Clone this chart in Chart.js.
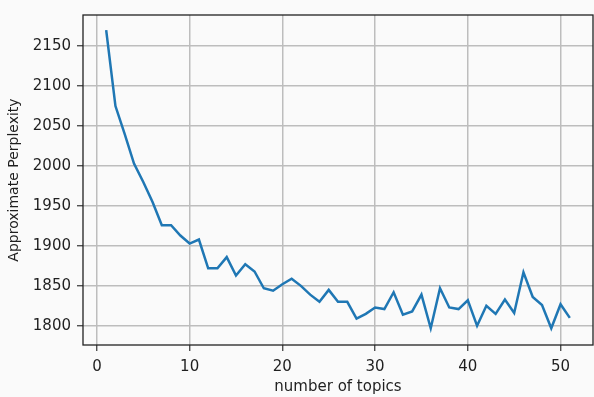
<!DOCTYPE html>
<html>
<head>
<meta charset="utf-8">
<script src="https://cdn.jsdelivr.net/npm/chart.js@4/dist/chart.umd.min.js"></script>
<style>
  html, body { margin: 0; padding: 0; background: #fafafa; }
  #wrap { width: 594px; height: 397px; }
</style>
</head>
<body>
<div id="wrap"><canvas id="chart" width="594" height="397"></canvas></div>
<script>
var topics = [1, 2, 3, 4, 5, 6, 7, 8, 9, 10, 11, 12, 13, 14, 15, 16, 17, 18, 19, 20,
  21, 22, 23, 24, 25, 26, 27, 28, 29, 30, 31, 32, 33, 34, 35, 36, 37, 38, 39, 40,
  41, 42, 43, 44, 45, 46, 47, 48, 49, 50, 51];

var perplexity = [2170, 2075, 2040, 2003, 1980, 1955, 1926, 1926, 1913, 1903,
  1908, 1872, 1872, 1886, 1863, 1877, 1868, 1847, 1844, 1852,
  1859, 1850, 1839, 1830, 1845, 1830, 1830, 1809, 1815, 1823,
  1821, 1842, 1814, 1818, 1839, 1797, 1847, 1823, 1821, 1832,
  1800, 1825, 1815, 1833, 1816, 1867, 1836, 1826, 1797, 1827, 1810];

var xTicks = [0, 10, 20, 30, 40, 50];
var yTicks = [1800, 1850, 1900, 1950, 2000, 2050, 2100, 2150];

var textColor = '#1f1f1f';
var gridColor = '#bdbdbd';
var tickFont = { family: 'DejaVu Sans', size: 15 };
var yTitleFont = { family: 'DejaVu Sans', size: 14 };

// matplotlib style frame around the plot area
var frame = {
  id: 'frame',
  afterDraw: function(chart) {
    var a = chart.chartArea, ctx = chart.ctx;
    ctx.save();
    ctx.strokeStyle = '#222';
    ctx.lineWidth = 1.3;
    ctx.strokeRect(a.left, a.top, a.right - a.left, a.bottom - a.top);
    ctx.restore();
  }
};

function fixTicks(values) {
  return function(axis) {
    axis.ticks = values.map(function(v) { return { value: v }; });
  };
}

function plain(v) { return String(v); }

new Chart(document.getElementById('chart'), {
  type: 'line',
  data: {
    datasets: [{
      data: topics.map(function(t, i) { return { x: t, y: perplexity[i] }; }),
      borderColor: '#1f77b4',
      borderWidth: 2.5,
      pointRadius: 0,
      tension: 0,
      fill: false
    }]
  },
  options: {
    responsive: false,
    animation: false,
    events: [],
    layout: { padding: { top: 12, right: 1, left: 0, bottom: 0 } },
    plugins: { legend: { display: false }, tooltip: { enabled: false } },
    scales: {
      x: {
        type: 'linear',
        min: -1.5,
        max: 53.5,
        afterBuildTicks: fixTicks(xTicks),
        afterFit: function(s) { s.height = 52; },
        border: { display: false },
        grid: { color: gridColor, lineWidth: 1.5, tickLength: 6, tickColor: '#333', tickWidth: 1.2 },
        ticks: { color: textColor, font: tickFont, padding: 7, maxRotation: 0, callback: plain },
        title: { display: true, text: 'number of topics', color: textColor, font: tickFont, padding: { top: 0, bottom: 1 } }
      },
      y: {
        min: 1776,
        max: 2189,
        afterBuildTicks: fixTicks(yTicks),
        afterFit: function(s) { s.width = 83; },
        border: { display: false },
        grid: { color: gridColor, lineWidth: 1.5, tickLength: 6, tickColor: '#333', tickWidth: 1.2 },
        ticks: { color: textColor, font: tickFont, padding: 6, callback: plain },
        title: { display: true, text: 'Approximate Perplexity', color: textColor, font: yTitleFont, padding: { top: 6, bottom: 0 } }
      }
    }
  },
  plugins: [frame]
});
</script>
</body>
</html>
